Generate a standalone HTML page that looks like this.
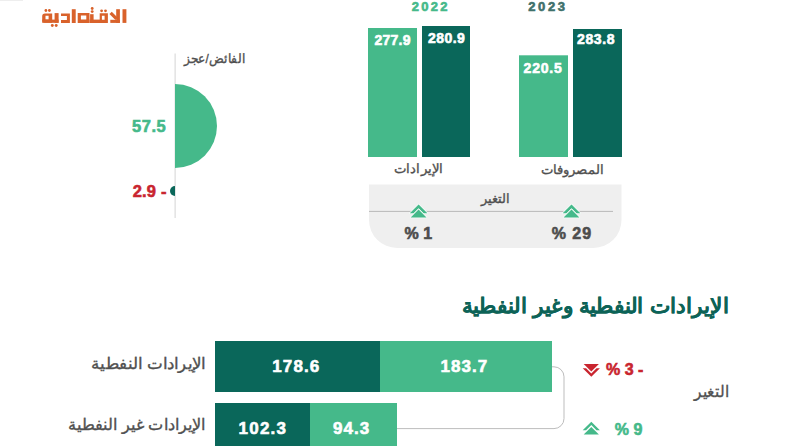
<!DOCTYPE html>
<html>
<head>
<meta charset="utf-8">
<title>الإيرادات والمصروفات</title>
<style>
html,body{margin:0;padding:0;background:#fff;}
body{width:792px;height:446px;position:relative;overflow:hidden;font-family:"Liberation Sans",sans-serif;}
svg.bg{position:absolute;left:0;top:0;}
.t{position:absolute;line-height:1;white-space:nowrap;}
.num{font-weight:700;direction:ltr;-webkit-text-stroke-width:0.6px;}
.w{color:#fff;}
.ar{direction:rtl;color:#505050;-webkit-text-stroke:0.35px #505050;}
</style>
</head>
<body>
<svg class="bg" width="792" height="446" viewBox="0 0 792 446">
  <!-- faint top-left strip -->
  <rect x="0" y="0" width="23" height="1" fill="#e2e2e2" opacity="0.6"/>
  <!-- logo -->
  <g fill="#d9622b">
    <path d="M45 13.4H52.2V22.8H45A2.8 2.8 0 0 1 42.2 20V16.2A2.8 2.8 0 0 1 45 13.4Z M45.5 15.8V19.6H48.6V15.8Z" fill-rule="evenodd"/>
    <rect x="42.2" y="19.6" width="16.4" height="3.2"/>
    <rect x="54.6" y="13.1" width="4" height="9.7"/>
    <circle cx="45.9" cy="10.5" r="1.4"/><circle cx="49.4" cy="10.5" r="1.4"/>
    <circle cx="52.3" cy="25.5" r="1.45"/><circle cx="56.2" cy="25.5" r="1.45"/>
    <path d="M61 13.4H69.9V22.9H61V20H66.9V16H61Z"/>
    <rect x="71.8" y="9.2" width="3.9" height="13.8"/>
    <path d="M77.7 12.9H89.5V23H77.7Z M80.9 15.6V19.6H86.3V15.6Z" fill-rule="evenodd"/>
    <rect x="89.5" y="19.6" width="10.5" height="3.4"/>
    <rect x="90.1" y="14.2" width="3.5" height="8.8"/>
    <circle cx="92.2" cy="8.5" r="1.4"/><circle cx="92.2" cy="11.6" r="1.4"/>
    <path d="M99.7 13.3H107.9V23H99.7Z M101.9 15.8V19.7H104.6V15.8Z" fill-rule="evenodd"/>
    <circle cx="101.6" cy="10.8" r="1.4"/><circle cx="105.5" cy="10.8" r="1.4"/>
    <rect x="110.3" y="19.8" width="9.6" height="3.1"/>
    <rect x="116.2" y="9.2" width="3.7" height="13.7"/>
    <path d="M110.6 12.8L116.6 18.8" stroke="#d9622b" stroke-width="3.2"/>
    <rect x="122.5" y="9.2" width="3.9" height="13.7"/>
  </g>
  <!-- surplus/deficit -->
  <rect x="174.6" y="53.5" width="1" height="164.5" fill="#d4d4d4"/>
  <path d="M175 84A42 42 0 0 1 175 168Z" fill="#45b98a"/>
  <path d="M175 186A5 5 0 0 0 175 196Z" fill="#0a675a"/>
  <!-- top bars -->
  <rect x="368" y="28" width="49" height="129" fill="#45b98a"/>
  <rect x="422" y="26" width="48" height="131" fill="#0a675a"/>
  <rect x="519" y="55.3" width="49" height="101.7" fill="#45b98a"/>
  <rect x="573" y="29" width="49" height="128" fill="#0a675a"/>
  <!-- change panel -->
  <path d="M369 184.5H621.5V220A28 28 0 0 1 593.5 248H397A28 28 0 0 1 369 220Z" fill="#efefef"/>
  <rect x="369" y="210.9" width="244" height="1" fill="#b8b8b8"/>
  <g fill="#45b98a" stroke="#f6fcf9" stroke-width="1.4" paint-order="stroke" stroke-linejoin="round">
    <path d="M418.6 204.5L427.4 213.3H423.6L418.6 208.3L413.6 213.3H409.8Z"/>
    <path d="M418.6 209.6L426.5 217.5H410.7Z"/>
    <path d="M571.5 204.5L580.3 213.3H576.5L571.5 208.3L566.5 213.3H562.7Z"/>
    <path d="M571.5 209.6L579.4 217.5H563.6Z"/>
  </g>
  <!-- bracket -->
  <path d="M552 366.8H554A10 10 0 0 1 564 376.8V418.6A10 10 0 0 1 554 428.6H397" fill="none" stroke="#bdbdbd" stroke-width="1"/>
  <!-- bottom bars -->
  <rect x="215" y="341" width="165" height="51" fill="#0a675a"/>
  <rect x="380" y="341" width="172" height="51" fill="#45b98a"/>
  <rect x="215" y="403" width="95" height="50" fill="#0a675a"/>
  <rect x="310" y="403" width="87" height="50" fill="#45b98a"/>
  <!-- red down chevron -->
  <g fill="#c9252f">
    <path d="M591.3 376.8L599.9 368.2H596.5L591.3 373.4L586.1 368.2H582.7Z"/>
    <path d="M591.3 371.6L598.9 364H583.7Z"/>
  </g>
  <!-- green up chevron -->
  <g fill="#45b98a">
    <path d="M591.3 421.7L599.9 430.3H596.5L591.3 425.1L586.1 430.3H582.7Z"/>
    <path d="M591.3 426.9L598.9 434.5H583.7Z"/>
  </g>
</svg>

<div class="t ar" id="faed" style="left:183.9px;top:53.4px;font-size:12.50px;transform:scaleX(0.9394);transform-origin:0 0;">الفائض/عجز</div>
<div class="t num" id="v575" style="left:132.0px;top:118.0px;font-size:16.50px;color:#45b98a;letter-spacing:0.53px;">57.5</div>
<div class="t num" id="v29" style="left:132.7px;top:182.5px;font-size:16.50px;color:#c9252f;letter-spacing:0.20px;">2.9 -</div>

<div class="t num" id="y2022" style="left:411.7px;top:0.4px;font-size:13.00px;color:#45b98a;letter-spacing:2.27px;">2022</div>
<div class="t num" id="y2023" style="left:528.3px;top:0.4px;font-size:13.00px;color:#3f716b;letter-spacing:2.57px;">2023</div>

<div class="t num w" id="v2779" style="left:374.5px;top:33.2px;font-size:14.00px;letter-spacing:0.22px;">277.9</div>
<div class="t num w" id="v2809" style="left:428.1px;top:31.1px;font-size:14.00px;letter-spacing:0.41px;">280.9</div>
<div class="t num w" id="v2205" style="left:523.6px;top:60.5px;font-size:14.00px;letter-spacing:0.80px;">220.5</div>
<div class="t num w" id="v2838" style="left:577.0px;top:32.4px;font-size:14.00px;letter-spacing:0.60px;">283.8</div>

<div class="t ar" id="iradat" style="left:394.3px;top:162.4px;font-size:13.00px;transform:scaleX(1.0217);transform-origin:0 0;">الإيرادات</div>
<div class="t ar" id="masruf" style="left:540.8px;top:163.2px;font-size:13.00px;transform:scaleX(1.0135);transform-origin:0 0;">المصروفات</div>
<div class="t ar" id="tagh1" style="left:480.6px;top:191.7px;font-size:13.00px;transform:scaleX(0.9936);transform-origin:0 0;">التغير</div>
<div class="t num" id="p1" style="left:404.5px;top:226.1px;font-size:16.00px;color:#4d4d4d;letter-spacing:0px;">% 1</div>
<div class="t num" id="p29" style="left:551.7px;top:225.8px;font-size:16.00px;color:#4d4d4d;letter-spacing:0.97px;">% 29</div>

<div class="t ar" id="title" style="left:462.2px;top:295.1px;font-size:21.00px;font-weight:700;color:#0d6357;-webkit-text-stroke:0.1px #0d6357;transform:scaleX(1.0279);transform-origin:0 0;">الإيرادات النفطية وغير النفطية</div>
<div class="t ar" id="oil" style="left:91.1px;top:356.4px;font-size:16.00px;transform:scaleX(1.0450);transform-origin:0 0;">الإيرادات النفطية</div>
<div class="t ar" id="nonoil" style="left:68.0px;top:416.7px;font-size:16.00px;transform:scaleX(1.0075);transform-origin:0 0;">الإيرادات غير النفطية</div>

<div class="t num w" id="v1786" style="left:272.2px;top:357.6px;font-size:17.00px;letter-spacing:1.14px;">178.6</div>
<div class="t num w" id="v1837" style="left:440.5px;top:357.8px;font-size:17.00px;letter-spacing:1.07px;">183.7</div>
<div class="t num w" id="v1023" style="left:238.5px;top:419.5px;font-size:17.00px;letter-spacing:1.25px;">102.3</div>
<div class="t num w" id="v943" style="left:332.9px;top:419.5px;font-size:17.00px;letter-spacing:1.07px;">94.3</div>

<div class="t num" id="p3" style="left:606.0px;top:362.3px;font-size:16.00px;color:#c9252f;letter-spacing:0px;">% 3 -</div>
<div class="t num" id="p9" style="left:614.8px;top:421.8px;font-size:16.00px;color:#45b98a;letter-spacing:0px;">% 9</div>
<div class="t ar" id="tagh2" style="left:693.6px;top:383.8px;font-size:15.50px;transform:scaleX(0.9616);transform-origin:0 0;">التغير</div>
</body>
</html>
